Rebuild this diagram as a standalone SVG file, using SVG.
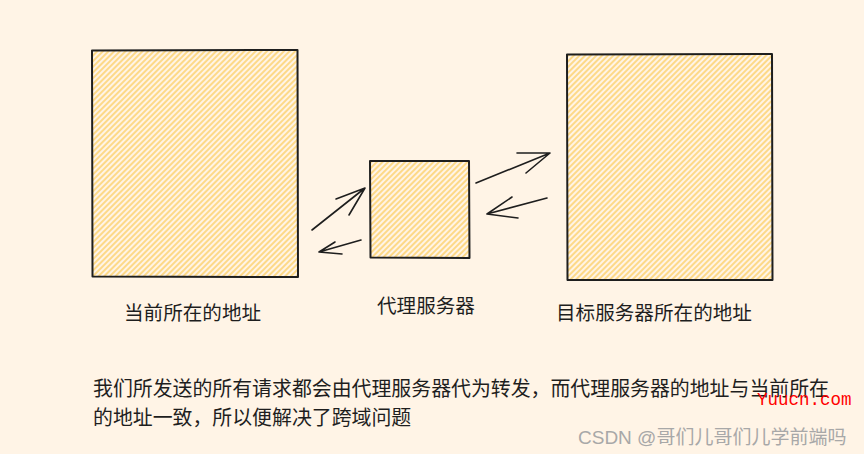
<svg xmlns="http://www.w3.org/2000/svg" width="864" height="454" viewBox="0 0 864 454">
  <style>
    .box { fill: url(#hatch); stroke: #1e1e1e; stroke-width: 2; stroke-linejoin: round; }
    .edge { fill: none; stroke: #1e1e1e; stroke-width: 1.6; stroke-linecap: round; stroke-linejoin: round; }
    .label { font-family: "Noto Sans CJK SC", "Microsoft YaHei", sans-serif; font-size: 19.6px; fill: #1e1e1e; }
    .body { font-family: "Noto Sans CJK SC", sans-serif; font-size: 19.9px; fill: #1e1e1e; }
  </style>
  <defs>
    <pattern id="hatch" patternUnits="userSpaceOnUse" width="4" height="4" patternTransform="rotate(-45)">
      <rect width="4" height="4" fill="#fff4e6"/>
      <line x1="0" y1="1" x2="4" y2="1" stroke="#fcc43a" stroke-width="1.1"/>
    </pattern>
  </defs>
  <rect width="864" height="454" fill="#fff4e6"/>

  <g id="node-current">
    <path class="box" d="M92 50.5 L297.5 50 L298 277 L92.5 276.5 Z"/>
    <text class="label" x="124" y="320">当前所在的地址</text>
  </g>

  <g id="node-proxy">
    <path class="box" d="M370 161 L469 161 L469.5 258 L370.5 257.5 Z"/>
    <text class="label" x="377" y="313">代理服务器</text>
  </g>

  <g id="node-target">
    <path class="box" d="M567 54.5 L772 54 L772.5 280 L567.5 280 Z"/>
    <text class="label" x="556" y="320">目标服务器所在的地址</text>
  </g>

  <g id="connectors">
    <path class="edge" d="M312 230 L365 188 M336 199 L365 188 L349 215"/>
    <path class="edge" d="M361 240 L319 252 M335 242 L319 252 L342 254"/>
    <path class="edge" d="M476 183 L550 153 M517 153 L550 153 L526 173"/>
    <path class="edge" d="M547 198 L487 214 M512 197 L487 214 L518 218"/>
  </g>

  <g id="caption">
    <text class="body" x="93" y="396">我们所发送的所有请求都会由代理服务器代为转发，而代理服务器的地址与当前所在</text>
    <text class="body" x="93" y="425">的地址一致，所以便解决了跨域问题</text>
  </g>

  <g id="watermarks">
    <text x="757" y="405" font-family="Liberation Mono, monospace" font-size="17.5" fill="#ff0000">Yuucn.com</text>
    <text x="578" y="444" font-family="Liberation Sans, Noto Sans CJK SC, sans-serif" font-size="19" fill="#a8a8a8">CSDN @哥们儿哥们儿学前端吗</text>
  </g>
</svg>
